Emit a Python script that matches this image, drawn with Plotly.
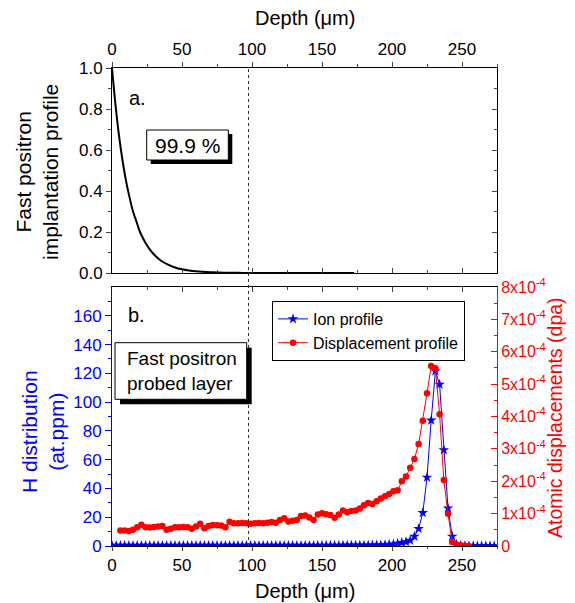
import plotly.graph_objects as go

# ---------------- data ----------------
# (a) fast positron implantation profile
depth_a = [0, 2.5, 5, 7.5, 10, 12.5, 15, 17.5, 20, 22.5, 25, 27.5, 30, 35, 40, 45, 50,
           55, 60, 65, 70, 75, 80, 90, 100, 120, 140, 173]
profile_a = [1.0, 0.82, 0.67, 0.55, 0.45, 0.37, 0.30, 0.25, 0.20, 0.165, 0.135, 0.11, 0.09,
             0.06, 0.041, 0.027, 0.018, 0.012, 0.008, 0.0055, 0.0037, 0.0025, 0.0017,
             0.0008, 0.0003, 0.0001, 0.0, 0.0]

# (b) ion profile (at.ppm)
depth_ion = [0, 3, 6, 9, 12, 15, 18, 21, 24, 27, 30, 33, 36, 39, 42, 45, 48, 51, 54, 57,
             60, 63, 66, 69, 72, 75, 78, 81, 84, 87, 90, 93, 96, 99, 102, 105, 108, 111,
             114, 117, 120, 123, 126, 129, 132, 135, 138, 141, 144, 147, 150, 153, 156,
             159, 162, 165, 168, 171, 174, 177, 180, 183, 186, 189, 192, 195, 198, 201,
             204, 207, 210, 213, 216, 219, 222, 225, 228, 231, 234, 237, 240, 243, 246,
             249, 252, 255, 258, 261, 264, 267, 270, 273]
ion = [0.3, 0.3, 0.3, 0.3, 0.3, 0.3, 0.3, 0.3, 0.3, 0.3, 0.3, 0.3, 0.3, 0.3, 0.3, 0.3,
       0.3, 0.3, 0.3, 0.3, 0.3, 0.3, 0.3, 0.3, 0.3, 0.3, 0.3, 0.3, 0.3, 0.3, 0.3, 0.3,
       0.3, 0.3, 0.3, 0.3, 0.3, 0.3, 0.3, 0.3, 0.3, 0.3, 0.3, 0.3, 0.3, 0.3, 0.3, 0.3,
       0.3, 0.4, 0.4, 0.4, 0.4, 0.4, 0.4, 0.5, 0.5, 0.5, 0.5, 0.5, 0.5, 0.6, 0.6, 0.7,
       0.7, 0.8, 1.0, 1.3, 1.8, 2.3, 2.8, 3.9, 6.7, 12.0, 23.1, 47.7, 87.4, 121.5, 112.3,
       66.7, 26.3, 6.7, 1.2, 0.3, 0.1, 0.1, 0.1, 0.1, 0.1, 0.1, 0.1, 0.1]

# (b) displacement profile (dpa)
depth_dpa = [6, 9, 12, 15, 18, 21, 24, 27, 30, 33, 36, 39, 42, 45, 48, 51, 54, 57, 60, 63,
             66, 69, 72, 75, 78, 81, 84, 87, 90, 93, 96, 99, 102, 105, 108, 111, 114, 117,
             120, 123, 126, 129, 132, 135, 138, 141, 144, 147, 150, 153, 156, 159, 162,
             165, 168, 171, 174, 177, 180, 183, 186, 189, 192, 195, 198, 201, 204, 207,
             210, 213, 216, 219, 222, 225, 228, 231, 234, 237, 240, 243, 246, 249, 252, 255]
dpa_e4 = [0.48, 0.48, 0.46, 0.50, 0.58, 0.66, 0.58, 0.57, 0.59, 0.60, 0.62, 0.50, 0.53,
          0.58, 0.58, 0.59, 0.58, 0.53, 0.60, 0.69, 0.55, 0.62, 0.65, 0.64, 0.63, 0.58,
          0.75, 0.70, 0.70, 0.71, 0.70, 0.69, 0.70, 0.71, 0.70, 0.72, 0.74, 0.72, 0.80,
          0.86, 0.76, 0.78, 0.80, 0.93, 0.94, 0.88, 0.80, 0.97, 1.01, 0.98, 0.96, 0.87,
          0.97, 1.10, 1.04, 1.08, 1.10, 1.16, 1.26, 1.33, 1.30, 1.38, 1.47, 1.54, 1.61,
          1.69, 1.72, 2.00, 2.15, 2.42, 2.69, 3.15, 3.87, 4.72, 5.56, 5.49, 4.07, 2.04,
          1.00, 0.12, 0.05, 0.02, 0.01, 0.0]
dpa = [v * 1e-4 for v in dpa_e4]

x_ticks = [0, 50, 100, 150, 200, 250]
h_ticks = [0, 20, 40, 60, 80, 100, 120, 140, 160]
dpa_ticks = [0, 1e-4, 2e-4, 3e-4, 4e-4, 5e-4, 6e-4, 7e-4, 8e-4]
dpa_ticktext = ["0"] + ["%dx10<sup>-4</sup>" % i for i in range(1, 9)]
probe_depth = 97.5

# ---------------- figure ----------------
FONT = "Arial, Liberation Sans, sans-serif"
BLUE = "#0000FF"
RED = "#FF0000"

OFF = 8  # page body margin offset
PAGE_W, PAGE_H = 575, 603
W, H = PAGE_W - OFF, PAGE_H - OFF
L, R, T, B = 112 - OFF, 78, 68 - OFF, 57
PW, PH = W - L - R, H - T - B


def px(xp):
    return (xp - OFF - L) / PW


def py(yp):
    return (H - B - (yp - OFF)) / PH


top_dom = [py(273), 1.0]
bot_dom = [0.0, py(287)]

fig = go.Figure()

fig.add_trace(go.Scatter(x=depth_a, y=profile_a, mode="lines", xaxis="x", yaxis="y",
                         line=dict(color="black", width=2, shape="spline"),
                         showlegend=False, hoverinfo="skip"))

fig.add_trace(go.Scatter(x=depth_ion, y=ion, mode="lines+markers", name="Ion profile",
                         xaxis="x2", yaxis="y2",
                         line=dict(color=BLUE, width=1),
                         marker=dict(symbol="star", size=8, color=BLUE)))

fig.add_trace(go.Scatter(x=depth_dpa, y=dpa, mode="lines+markers", name="Displacement profile",
                         xaxis="x2", yaxis="y4",
                         line=dict(color=RED, width=1),
                         marker=dict(symbol="circle", size=6.5, color=RED)))

# dummy traces for the mirror axes
for xa, ya in [("x3", "y"), ("x", "y3"), ("x4", "y2")]:
    fig.add_trace(go.Scatter(x=[None], y=[None], xaxis=xa, yaxis=ya, showlegend=False,
                             hoverinfo="skip"))

tickfont = dict(family=FONT, size=17, color="black")
common_x = dict(range=[0, 275], showgrid=False, zeroline=False, showline=True,
                linecolor="black", linewidth=1, tickvals=x_ticks)
minor_x = [25, 75, 125, 175, 225, 275]

fig.update_layout(
    width=W, height=H,
    margin=dict(l=L, r=R, t=T, b=B, pad=0),
    paper_bgcolor="white", plot_bgcolor="white",
    font=dict(family=FONT, color="black"),
    xaxis=dict(**common_x, domain=[0, 1], anchor="y", side="top", ticks="outside",
               ticklen=5, tickfont=tickfont,
               minor=dict(tickvals=minor_x, ticks="outside", ticklen=3)),
    yaxis=dict(domain=top_dom, anchor="x", range=[0, 1.0], showgrid=False, zeroline=False,
               showline=True, linecolor="black", linewidth=1, dtick=0.2, tickformat=".1f",
               ticks="outside", ticklen=5, tickfont=tickfont,
               minor=dict(dtick=0.1, ticks="outside", ticklen=3)),
    xaxis3=dict(**common_x, overlaying="x", anchor="y", side="bottom", ticks="inside",
                ticklen=5, showticklabels=False,
                minor=dict(tickvals=minor_x, ticks="inside", ticklen=3)),
    yaxis3=dict(overlaying="y", anchor="x", side="right", range=[0, 1.0], showgrid=False,
                zeroline=False, showline=True, linecolor="black", linewidth=1, dtick=0.2,
                ticks="inside", ticklen=5, showticklabels=False,
                minor=dict(dtick=0.1, ticks="inside", ticklen=3)),
    xaxis2=dict(**common_x, domain=[0, 1], anchor="y2", side="bottom", ticks="outside",
                ticklen=4, tickfont=tickfont,
                minor=dict(tickvals=minor_x, ticks="outside", ticklen=2)),
    xaxis4=dict(**common_x, overlaying="x2", anchor="y2", side="top", ticks="inside",
                ticklen=5, showticklabels=False,
                minor=dict(tickvals=minor_x, ticks="inside", ticklen=3)),
    yaxis2=dict(domain=bot_dom, anchor="x2", range=[0, 180], showgrid=False, zeroline=False,
                showline=True, linecolor=BLUE, linewidth=1, tickvals=h_ticks,
                ticks="outside", ticklen=6, tickcolor=BLUE,
                tickfont=dict(family=FONT, size=17, color=BLUE),
                minor=dict(tickvals=[10, 30, 50, 70, 90, 110, 130, 150, 170],
                           ticks="outside", ticklen=3, tickcolor=BLUE)),
    yaxis4=dict(overlaying="y2", anchor="x2", side="right", range=[0, 8e-4], showgrid=False,
                zeroline=False, showline=True, linecolor=RED, linewidth=1,
                tickvals=dpa_ticks, ticktext=dpa_ticktext, ticks="inside", ticklen=6,
                tickcolor=RED, tickfont=dict(family=FONT, size=16, color=RED),
                minor=dict(tickvals=[0.5e-4, 1.5e-4, 2.5e-4, 3.5e-4, 4.5e-4, 5.5e-4,
                                     6.5e-4, 7.5e-4], ticks="inside", ticklen=3,
                           tickcolor=RED)),
    legend=dict(x=px(272), y=py(301), xanchor="left", yanchor="top",
                bgcolor="white", bordercolor="black", borderwidth=1,
                font=dict(family=FONT, size=16, color="black"),
                tracegroupgap=0, itemwidth=30),
    showlegend=True,
)

shapes = []
# dotted probe-depth line through both panels
shapes.append(dict(type="line", xref="x", yref="paper", x0=probe_depth, x1=probe_depth,
                   y0=0, y1=1, line=dict(color="#333333", width=1, dash="dot")))


def shadow_box(x0, y0, x1, y1, off):
    shapes.append(dict(type="rect", xref="paper", yref="paper",
                       x0=px(x0 + off), x1=px(x1 + off), y0=py(y0 + off), y1=py(y1 + off),
                       fillcolor="black", line=dict(width=0), layer="above"))
    shapes.append(dict(type="rect", xref="paper", yref="paper",
                       x0=px(x0), x1=px(x1), y0=py(y0), y1=py(y1),
                       fillcolor="white", line=dict(color="black", width=1), layer="above"))


shadow_box(146.7, 130, 228.3, 160, 4)
shadow_box(115, 342.7, 246.7, 399.3, 5)
fig.update_layout(shapes=shapes)

ann = []


def text(t, xp, yp, size, color="black", angle=0, xanchor="center", align="center"):
    ann.append(dict(text=t, xref="paper", yref="paper", x=px(xp), y=py(yp),
                    xanchor=xanchor, yanchor="middle", showarrow=False, textangle=angle,
                    align=align, font=dict(family=FONT, size=size, color=color)))


text("Depth (μm)", 304.5, 18, 20)
text("Depth (μm)", 304.5, 591, 20)
text("Fast positron<br>implantation profile", 37, 172, 21, angle=-90)
text("H distribution<br>(at.ppm)", 43, 432, 21, color=BLUE, angle=-90)
text("Atomic displacements (dpa)", 555, 418, 19.5, color=RED, angle=-90)
text("a.", 137, 98, 20)
text("b.", 136, 315, 20)
text("99.9 %", 187.5, 145.5, 21)
text("Fast positron<br>probed layer", 125, 371, 19, xanchor="left", align="left")
fig.update_layout(annotations=ann)

fig.write_html("out.html")
